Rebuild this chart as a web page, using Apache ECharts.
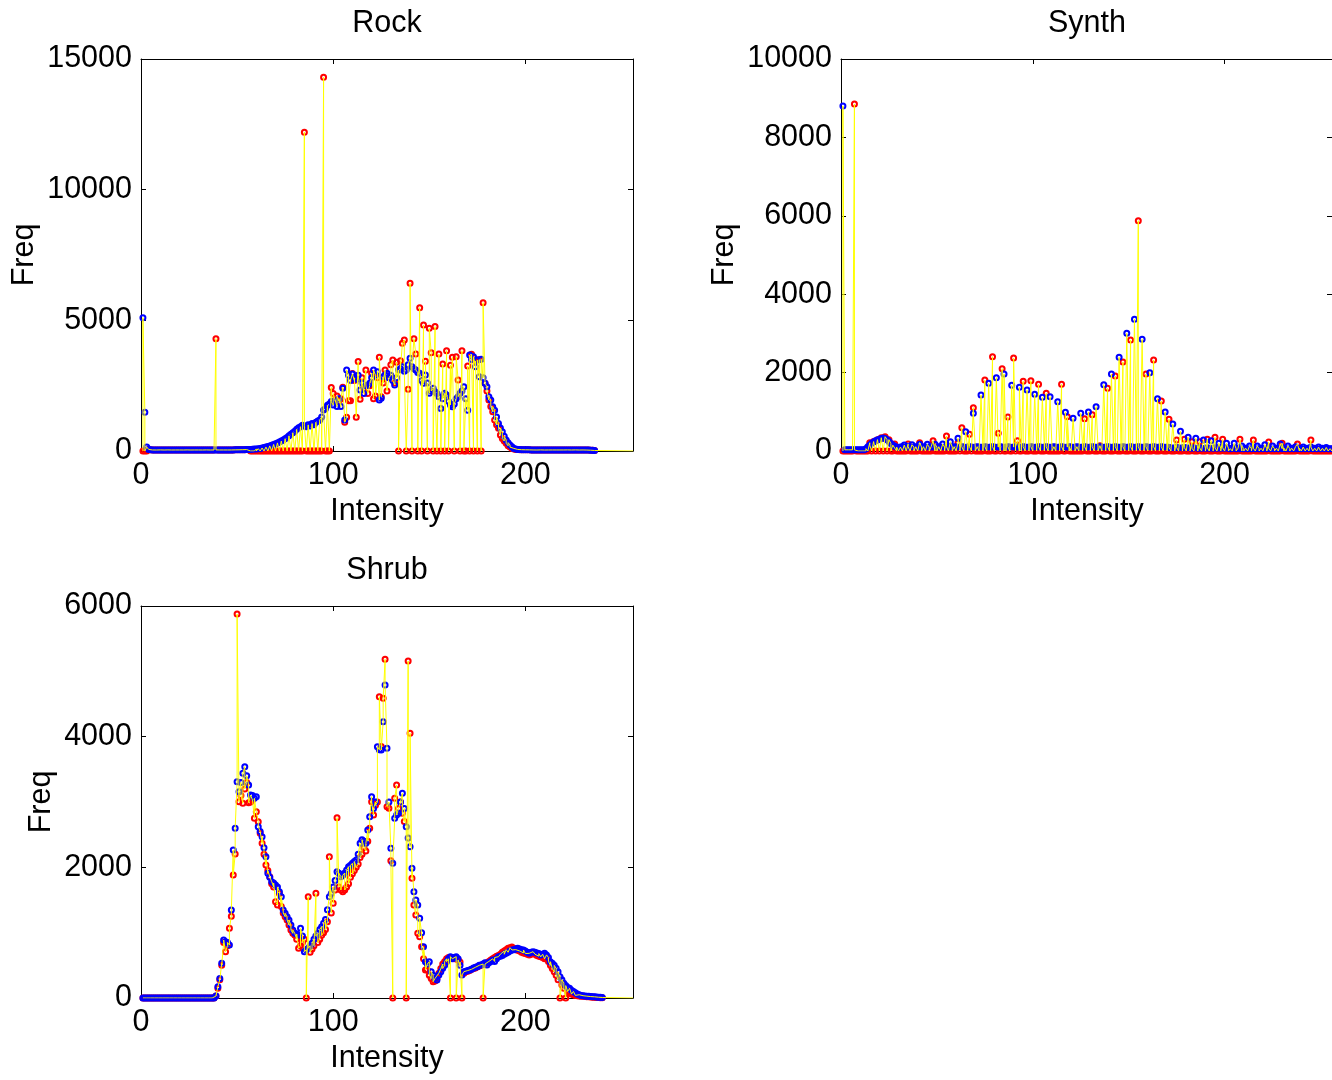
<!DOCTYPE html>
<html><head><meta charset="utf-8">
<script src="https://cdn.jsdelivr.net/npm/echarts/dist/echarts.min.js"></script>
<style>html,body{margin:0;padding:0;background:#fff}#c{width:1332px;height:1080px}</style>
</head><body><div id="c"></div>
<script>
// x positions of the first bin and the axis end
const xStart = 1;
const xMax = 256;
const xTicks = [0, 100, 200];
const panelTitles = ['Rock', 'Synth', 'Shrub'];

const rockBlue = [
5100,1480,150,60,45,40,40,38,40,42,
40,38,40,42,40,38,40,40,42,40,
40,38,40,42,40,38,40,40,42,40,
40,38,40,42,40,38,40,40,42,40,
40,38,40,42,40,38,40,42,44,45,
46,48,50,52,55,58,62,66,72,80,
90,100,115,130,150,170,195,220,250,280,
310,340,380,420,470,520,580,640,700,760,
830,890,930,990,960,930,1000,960,1050,1000,
1100,1150,1190,1300,1570,1620,1750,1800,1890,1760,
1900,1700,2000,1700,2400,1190,3100,2900,2700,2950,
2800,2750,2900,2330,2600,2200,2500,2520,2590,2800,
3100,2900,3035,1950,2017,2843,2909,2973,2800,2900,
2700,2525,2800,3100,3150,3226,3050,3100,3300,3547,
3226,3150,3100,3000,2973,2700,2590,2909,2600,2208,
2300,2400,2270,2200,2080,1630,2000,2208,2142,1900,
1760,1696,1800,2000,2080,2208,2300,2460,2000,1560,
3674,3500,3610,3226,3480,2843,3509,2800,2590,2460,
2080,1950,1696,1560,1300,1050,880,740,560,420,
320,230,160,100,80,60,55,50,48,46,
45,44,42,40,40,38,40,42,40,38,
40,40,42,40,38,40,42,40,38,40,
40,42,40,38,40,42,40,38,40,40,
38,36,34,30,25,20];

const rockRed = [
0,0,0,60,45,40,40,38,40,42,
40,38,40,42,40,38,40,40,42,40,
40,38,40,42,40,38,40,40,42,40,
40,38,40,42,40,38,40,40,4300,40,
40,38,40,42,40,38,40,42,44,45,
46,48,50,52,55,58,0,0,0,0,
0,0,0,0,0,0,0,0,0,0,
0,0,0,0,0,0,0,0,0,0,
0,0,0,0,12200,0,0,0,0,0,
0,0,0,0,14300,0,0,0,2430,2200,
1950,2100,1900,2000,2440,1100,1290,1925,1925,2970,
2700,1290,3420,1978,2800,2400,3100,2200,2500,2970,
2000,2100,2800,3586,2080,2600,3100,2300,2800,3300,
3480,2600,3400,0,3450,4120,4250,0,2360,6418,
0,4300,3712,0,5485,0,4822,3430,0,4695,
3763,0,4760,0,3712,0,3330,0,3840,0,
3280,3585,0,3610,2717,0,3840,0,0,3250,
0,3700,0,3444,0,3500,0,5675,2590,2300,
1950,1700,1500,1186,1000,868,612,480,380,293,
200,150,100,80,60,55,50,48,46,45,
45,44,42,40,40,38,40,42,40,38,
40,40,42,40,38,40,42,40,38,40,
40,42,40,38,40,42,40,38,40,40,
38,36,34,30,25,20];

const synthBlue = [
8800,30,30,30,30,30,30,30,30,30,
30,35,60,110,150,195,230,260,280,300,
320,330,320,290,240,190,150,120,100,90,
100,110,150,100,110,100,160,100,110,100,
170,100,110,100,170,100,110,100,175,100,
110,100,178,100,110,100,238,100,110,100,
323,100,110,100,493,100,110,100,961,100,
110,100,1428,100,110,100,1727,100,110,100,
1871,100,110,100,1964,100,110,100,1675,100,
110,100,1624,100,110,100,1556,100,110,100,
1446,100,110,100,1369,100,110,100,1386,100,
110,100,1259,100,110,100,986,100,110,100,
833,100,110,100,961,100,110,100,995,100,
110,100,1131,100,110,100,1692,100,110,100,
1964,100,110,100,2390,100,110,100,3002,100,
110,100,3359,100,110,100,2849,100,110,100,
1998,100,110,100,1334,100,110,100,995,100,
90,80,689,80,90,80,502,80,90,80,
349,80,70,80,323,70,80,70,281,70,
80,70,264,70,80,70,196,70,80,70,
196,70,60,70,196,60,70,60,128,60,
70,60,128,60,70,60,128,60,70,60,
162,60,70,60,128,60,70,60,179,60,
70,60,128,60,70,60,111,60,70,60,
100,60,70,60,100,60,70,60,100,60,
70,60,90,60,60,60];

const synthRed = [
0,0,0,0,0,0,8850,0,0,0,
0,0,0,0,210,0,240,0,290,0,
340,0,365,0,290,0,0,178,0,0,
0,0,0,0,178,0,0,0,0,0,
212,0,0,0,0,0,0,263,0,0,
0,0,0,0,383,0,0,0,0,0,
212,0,595,0,0,0,425,0,1105,0,
0,0,0,0,1811,0,0,0,2406,0,
0,451,0,2100,0,0,867,0,0,2372,
0,264,0,0,1778,0,0,0,1795,0,
0,0,1701,0,0,0,1471,0,0,0,
0,0,0,0,1701,0,0,876,0,0,
0,0,0,0,0,0,825,0,0,0,
927,0,0,0,136,0,0,0,1599,0,
0,0,1913,0,0,0,2270,0,0,0,
2832,0,0,0,5875,0,0,0,1964,0,
0,0,2321,0,0,0,1276,0,0,0,
808,0,0,0,281,0,0,0,298,0,
0,0,238,0,0,0,238,0,0,0,
298,0,0,0,349,0,0,0,298,0,
0,0,0,0,0,0,0,298,0,0,
0,0,0,0,281,0,0,0,0,0,
0,0,230,0,0,0,0,0,0,196,
0,0,0,0,0,0,0,179,0,0,
0,0,0,0,281,0,0,0,0,0,
0,0,0,0,0,0];

const shrubBlue = [
0,0,0,0,0,0,0,0,0,0,
0,0,0,0,0,0,0,0,0,0,
0,0,0,0,0,0,0,0,0,0,
0,0,0,0,0,0,0,0,30,173,
300,531,888,862,850,811,1347,2265,2597,3311,
3157,3300,3439,3541,3400,3260,3107,3100,3056,3082,
2622,2550,2469,2300,2163,1909,1850,1780,1760,1730,
1700,1628,1551,1347,1296,1245,1194,1117,1041,990,
980,964,1066,950,709,740,760,800,837,900,
950,990,1050,1092,1143,1200,1350,1551,1600,1700,
1800,1933,1909,1857,1880,1913,1960,2010,2030,2062,
2090,2112,2200,2367,2424,2400,2367,2571,2775,3081,
2900,3000,3846,3800,3796,4229,4790,3821,3000,2291,
2062,2750,2800,2827,3000,3133,2900,2622,2450,2316,
1985,1627,1500,1423,1219,1000,785,556,520,556,
403,350,301,275,352,400,454,500,556,600,
633,600,620,633,600,500,352,403,410,420,
430,440,460,470,480,500,505,520,540,505,
540,560,580,560,600,632,640,650,670,684,
700,720,735,740,750,760,750,740,735,720,
700,684,700,709,700,690,680,658,670,684,
660,620,556,530,500,454,400,326,280,225,
190,160,148,120,100,80,60,50,40,35,
30,28,25,22,20,18,15,12,10,8];

const shrubRed = [
0,0,0,0,0,0,0,0,0,0,
0,0,0,0,0,0,0,0,0,0,
0,0,0,0,0,0,0,0,0,0,
0,0,0,0,0,0,0,0,30,150,
280,500,850,709,800,1066,1250,1883,2204,5877,
3005,3100,2980,3200,3300,2990,3000,3030,2750,2850,
2699,2520,2367,2200,2036,1950,1857,1750,1700,1474,
1423,1600,1400,1300,1245,1194,1117,1041,990,964,
900,761,800,850,900,0,1551,700,750,800,
1602,850,900,960,1000,1050,1168,2163,1300,1450,
1653,2760,1700,1653,1627,1653,1700,1750,1850,1900,
1950,2000,2050,2150,2200,2300,2250,2400,2600,3005,
2800,2950,3000,4611,3850,4587,5184,2928,2903,2100,
0,3056,3260,2900,3000,2827,2700,0,5158,4052,
1832,1423,1270,990,938,785,600,428,428,350,
300,250,260,300,380,450,520,560,600,620,
0,620,600,0,580,550,0,380,400,410,
420,440,450,460,480,490,500,0,520,540,
560,580,600,620,640,650,670,700,720,740,
760,770,780,760,740,730,720,700,690,680,
670,660,670,680,670,650,640,630,620,600,
607,560,500,450,400,350,280,0,200,150,
0,100,80,60,50,40,35,30,28,25,
22,20,18,15,12,10,8,6,5,4];

const yMaxes = [15000, 10000, 6000];
const ySteps = [5000, 2000, 2000];

function pts(arr) { return arr.map((v, i) => [xStart + i, v]); }
// one yellow polyline zig-zagging between the two values of each bin
function zig(red, blue) {
  const out = [];
  for (let i = 0; i < red.length; i++) {
    const x = xStart + i;
    if (i % 2 === 0) { out.push([x, red[i]]); out.push([x, blue[i]]); }
    else { out.push([x, blue[i]]); out.push([x, red[i]]); }
  }
  out.push([xMax, 0]);
  return out;
}

const FONT = "'Liberation Sans', Arial, Helvetica, sans-serif";
const FS = 30.5;
const W = 492, H = 392;
const layout = [
  {left: 141, top: 59, ylabX: 25},
  {left: 841, top: 59, ylabX: 725},
  {left: 141, top: 606, ylabX: 42}
];
const data = [[rockRed, rockBlue], [synthRed, synthBlue], [shrubRed, shrubBlue]];
const plain = v => String(v);

const grid = [], xAxis = [], yAxis = [], series = [], graphic = [];
layout.forEach((L, k) => {
  grid.push({left: L.left, top: L.top, width: W, height: H, show: false, containLabel: false});
  const line = {show: true, onZero: false, lineStyle: {color: '#000', width: 1}};
  const tick = {show: true, inside: true, length: 5, lineStyle: {color: '#000', width: 1}};
  const xc = {type: 'value', gridIndex: k, min: 0, max: xMax, interval: xTicks[1] - xTicks[0],
    axisLine: line, axisTick: tick, splitLine: {show: false}};
  xAxis.push(Object.assign({}, xc, {position: 'bottom',
    axisLabel: {show: true, fontFamily: FONT, fontSize: FS, color: '#000', margin: 9, showMaxLabel: false, formatter: plain}}));
  xAxis.push(Object.assign({}, xc, {position: 'top', axisLabel: {show: false}}));
  const yc = {type: 'value', gridIndex: k, min: 0, max: yMaxes[k], interval: ySteps[k],
    axisLine: line, axisTick: tick, splitLine: {show: false}};
  yAxis.push(Object.assign({}, yc, {position: 'left',
    axisLabel: {show: true, fontFamily: FONT, fontSize: FS, color: '#000', margin: 9, formatter: plain,
      padding: [2, 0, 0, 0]}}));
  yAxis.push(Object.assign({}, yc, {position: 'right', axisLabel: {show: false}}));

  const [red, blue] = data[k];
  series.push({type: 'scatter', xAxisIndex: 2 * k, yAxisIndex: 2 * k, data: pts(red),
    symbol: 'circle', symbolSize: 5, silent: true, z: 2,
    itemStyle: {color: 'rgba(255,255,255,0)', borderColor: '#ff0000', borderWidth: 2, opacity: 1}});
  series.push({type: 'scatter', xAxisIndex: 2 * k, yAxisIndex: 2 * k, data: pts(blue),
    symbol: 'circle', symbolSize: 5, silent: true, z: 3,
    itemStyle: {color: 'rgba(255,255,255,0)', borderColor: '#0000ff', borderWidth: 2, opacity: 1}});
  series.push({type: 'line', xAxisIndex: 2 * k, yAxisIndex: 2 * k, data: zig(red, blue),
    showSymbol: false, symbol: 'none', silent: true, z: 4,
    lineStyle: {color: '#ffff00', width: 1}});

  const cx = L.left + W / 2;
  graphic.push({type: 'text', x: cx, y: L.top - 35, silent: true,
    style: {text: panelTitles[k], font: FS + 'px ' + FONT, fill: '#000', align: 'center', verticalAlign: 'middle'}});
  graphic.push({type: 'text', x: cx, y: L.top + H + 61, silent: true,
    style: {text: 'Intensity', font: FS + 'px ' + FONT, fill: '#000', align: 'center', verticalAlign: 'middle'}});
  graphic.push({type: 'text', x: L.ylabX, y: L.top + H / 2, rotation: Math.PI / 2, silent: true,
    style: {text: 'Freq', font: FS + 'px ' + FONT, fill: '#000', align: 'center', verticalAlign: 'middle'}});
});

const chart = echarts.init(document.getElementById('c'), null, {renderer: 'canvas'});
chart.setOption({
  animation: false,
  backgroundColor: '#fff',
  grid, xAxis, yAxis, series, graphic
});
</script>
</body></html>
